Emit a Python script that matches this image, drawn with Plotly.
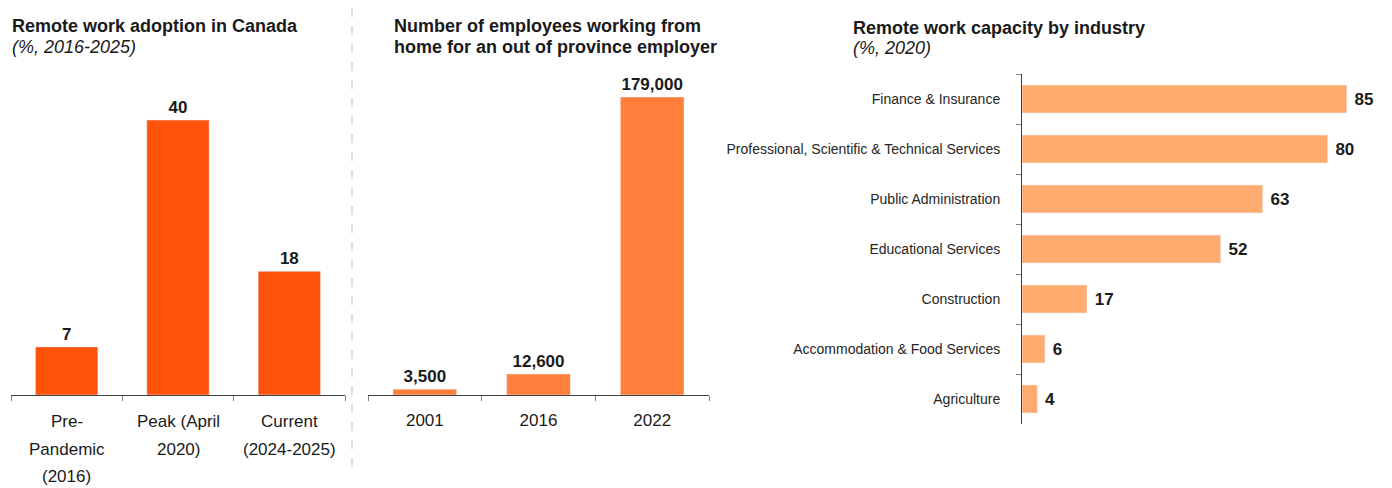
import plotly.graph_objects as go

W, H = 1392, 488
FONT = "Liberation Sans, Arial, sans-serif"
INK = "#1a1a1a"

# --- data -------------------------------------------------------------
adoption_categories = ["Pre-Pandemic (2016)", "Peak (April 2020)", "Current (2024-2025)"]
adoption_label_lines = [["Pre-", "Pandemic", "(2016)"], ["Peak (April", "2020)"], ["Current", "(2024-2025)"]]
adoption_pct = [7, 40, 18]

employee_years = ["2001", "2016", "2022"]
employee_counts = [3500, 12600, 179000]

industries = [
    "Finance & Insurance",
    "Professional, Scientific & Technical Services",
    "Public Administration",
    "Educational Services",
    "Construction",
    "Accommodation & Food Services",
    "Agriculture",
]
capacity_pct = [85, 80, 63, 52, 17, 6, 4]

# --- helpers: pixel positions -> paper fractions ------------------------
def px_x(x):
    return x / W


def px_y(y):
    return (H - y) / H


fig = go.Figure()

fig.add_trace(go.Bar(
    x=adoption_categories, y=adoption_pct,
    marker_color="#FF520A", width=0.56,
    texttemplate="<b>%{y}</b>", textposition="outside",
    textfont=dict(size=17, color=INK, family=FONT),
    cliponaxis=False, xaxis="x", yaxis="y",
))

fig.add_trace(go.Bar(
    x=employee_years, y=employee_counts,
    marker_color="#FF7F3B", width=0.56,
    texttemplate="<b>%{y:,}</b>", textposition="outside",
    textfont=dict(size=17, color=INK, family=FONT),
    cliponaxis=False, xaxis="x2", yaxis="y2",
))

fig.add_trace(go.Bar(
    x=capacity_pct, y=industries, orientation="h",
    marker_color="#FFAA6F", width=0.56,
    texttemplate="&nbsp;<b>%{x}</b>", textposition="outside",
    textfont=dict(size=17, color=INK, family=FONT),
    cliponaxis=False, xaxis="x3", yaxis="y3",
))

base_axis = dict(
    type="category", showline=True, linecolor="#404040", linewidth=1,
    ticks="outside", tickson="boundaries", ticklen=5, tickcolor="#808080",
    showgrid=False, zeroline=False, fixedrange=True,
)

adoption_axis_max = 45
employee_axis_max = 200000

fig.update_layout(
    width=W, height=H,
    margin=dict(l=0, r=0, t=0, b=0),
    paper_bgcolor="white", plot_bgcolor="white",
    showlegend=False,
    font=dict(family=FONT, color=INK),
    xaxis=dict(base_axis, domain=[px_x(11), px_x(345)], anchor="y", showticklabels=False),
    yaxis=dict(domain=[px_y(395), px_y(395 - 275 / 40 * adoption_axis_max)],
               range=[0, adoption_axis_max], visible=False, anchor="x"),
    xaxis2=dict(base_axis, domain=[px_x(368), px_x(709)], anchor="y2",
                tickfont=dict(size=17, color=INK), ticklabelstandoff=10),
    yaxis2=dict(domain=[px_y(395), px_y(395 - 298 / 179000 * employee_axis_max)],
                range=[0, employee_axis_max], visible=False, anchor="x2"),
    xaxis3=dict(domain=[px_x(1022), px_x(1385)], range=[0, 95], visible=False, anchor="y3"),
    yaxis3=dict(base_axis, domain=[px_y(424), px_y(74)], anchor="x3",
                autorange="reversed", tickfont=dict(size=14, color="#262626"),
                ticklabelstandoff=18),
)

annotations = []

# multi-line category labels under the first chart
for cat, lines in zip(adoption_categories, adoption_label_lines):
    for i, line in enumerate(lines):
        annotations.append(dict(
            x=cat, xref="x", y=px_y(421.5 + 27.5 * i), yref="paper",
            text=line, showarrow=False, xanchor="center", yanchor="middle",
            font=dict(size=17, color=INK),
        ))

# panel titles
titles = [
    (10, 26, "<b>Remote work adoption in Canada</b>"),
    (10, 47, "<i>(%, 2016-2025)</i>"),
    (392, 26, "<b>Number of employees working from</b>"),
    (392, 47, "<b>home for an out of province employer</b>"),
    (851, 28, "<b>Remote work capacity by industry</b>"),
    (851, 48, "<i>(%, 2020)</i>"),
]
for x, y, text in titles:
    annotations.append(dict(
        x=px_x(x), xref="paper", y=px_y(y), yref="paper",
        text=text, showarrow=False, xanchor="left", yanchor="middle",
        font=dict(size=18, color=INK),
    ))

fig.update_layout(annotations=annotations)

# dashed separator between the first two panels
fig.add_shape(
    type="line", xref="paper", yref="paper",
    x0=px_x(352), x1=px_x(352), y0=px_y(8), y1=px_y(470),
    line=dict(color="#BFBFBF", width=1, dash="dash"),
)

fig.write_html("out.html")
